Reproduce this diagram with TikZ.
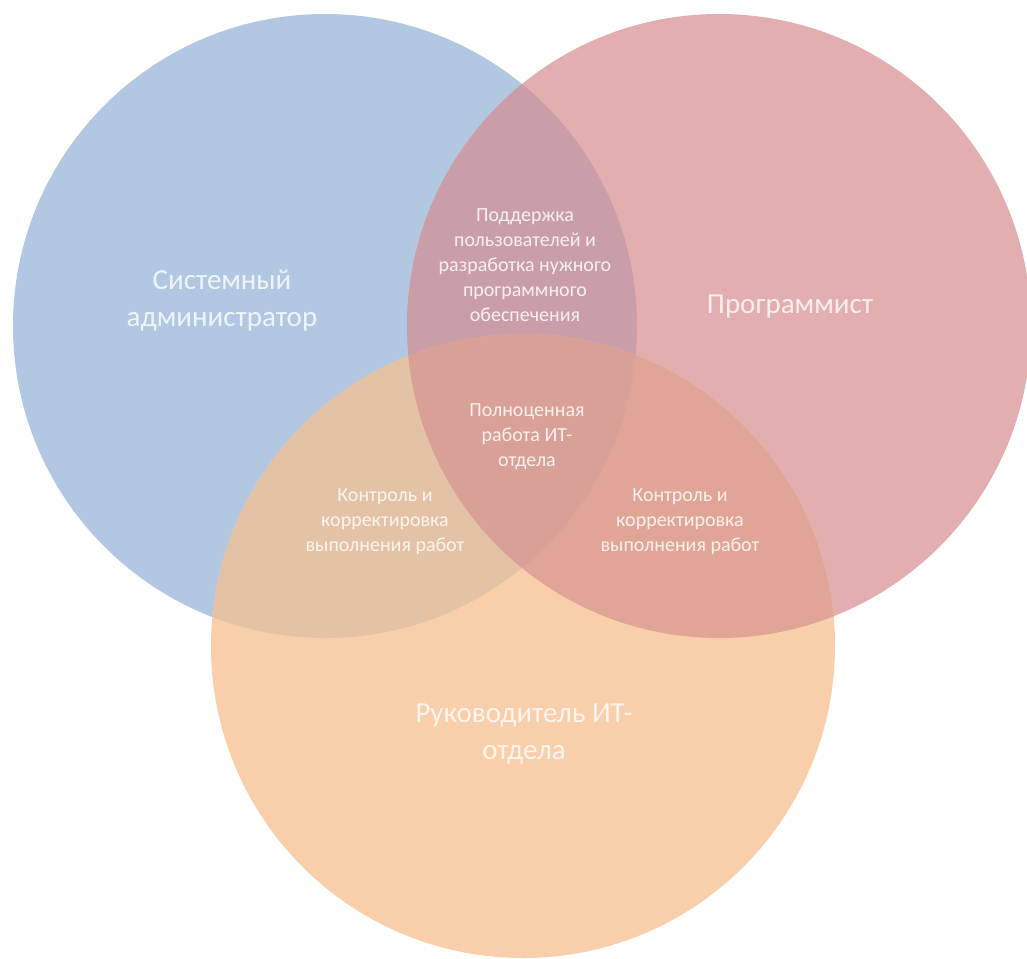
\documentclass[tikz,border=0pt]{standalone}
\usepackage{fontspec}
\setmainfont{Carlito}
\definecolor{cblue}{RGB}{178,200,226}
\definecolor{cred}{RGB}{227,174,175}
\definecolor{corange}{RGB}{249,207,171}
\definecolor{cbr}{RGB}{202,158,168}
\definecolor{cbo}{RGB}{228,194,165}
\definecolor{cro}{RGB}{224,165,150}
\definecolor{cbro}{RGB}{217,160,151}
\tikzset{
  big/.style={align=center,text=white,text opacity=0.8,font=\fontsize{29}{37}\selectfont},
  small/.style={align=center,text=white,text opacity=0.85,font=\fontsize{20}{25}\selectfont},
}
\begin{document}
\begin{tikzpicture}[x=1pt,y=-1pt]
\fill[white] (0,0) rectangle (1027,958);
\useasboundingbox (0,0) rectangle (1027,958);
\coordinate (B) at (325,326);
\coordinate (R) at (719,326);
\coordinate (O) at (523,646);
\def\rad{312pt}
\fill[cblue] (B) circle (\rad);
\fill[cred] (R) circle (\rad);
\fill[corange] (O) circle (\rad);
\begin{scope}
  \clip (B) circle (\rad);
  \fill[cbr] (R) circle (\rad);
  \fill[cbo] (O) circle (\rad);
\end{scope}
\begin{scope}
  \clip (R) circle (\rad);
  \fill[cro] (O) circle (\rad);
\end{scope}
\begin{scope}
  \clip (B) circle (\rad);
  \clip (R) circle (\rad);
  \fill[cbro] (O) circle (\rad);
\end{scope}
\node[big] (sa) at (222,301) {Системный\\администратор};
\node[big] (pr) at (790,307) {Программист};
\node[big] (rk) at (524,734) {Руководитель ИТ-\\отдела};
\node[small] (br) at (525,265) {Поддержка\\пользователей и\\разработка нужного\\программного\\обеспечения};
\node[small] (all) at (527,437) {Полноценная\\работа ИТ-\\отдела};
\node[small] (bo) at (385,522) {Контроль и\\корректировка\\выполнения работ};
\node[small] (ro) at (680,522) {Контроль и\\корректировка\\выполнения работ};
\end{tikzpicture}
\end{document}
